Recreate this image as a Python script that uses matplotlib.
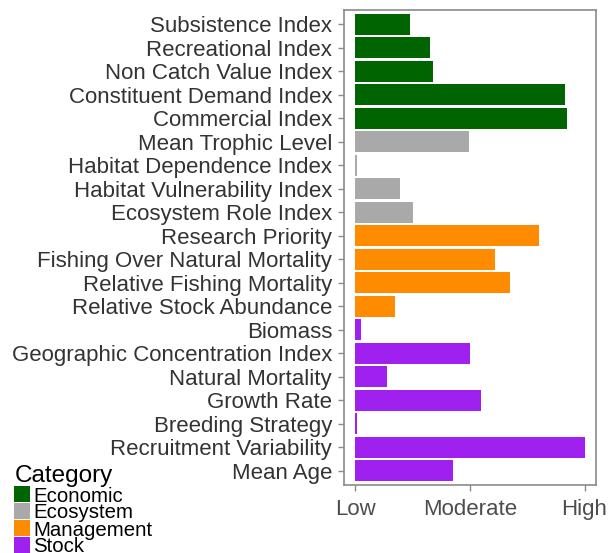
import matplotlib
matplotlib.use("Agg")
import matplotlib.pyplot as plt
from matplotlib.patches import Rectangle

plt.rcParams['font.family'] = ['Liberation Sans', 'DejaVu Sans']

labels = ["Subsistence Index", "Recreational Index", "Non Catch Value Index",
          "Constituent Demand Index", "Commercial Index",
          "Mean Trophic Level", "Habitat Dependence Index", "Habitat Vulnerability Index",
          "Ecosystem Role Index",
          "Research Priority", "Fishing Over Natural Mortality", "Relative Fishing Mortality",
          "Relative Stock Abundance",
          "Biomass", "Geographic Concentration Index", "Natural Mortality", "Growth Rate",
          "Breeding Strategy", "Recruitment Variability", "Mean Age"]
values = [0.48, 0.65, 0.68, 1.83, 1.85,
          0.99, 0.01, 0.39, 0.50,
          1.60, 1.215, 1.35, 0.345,
          0.046, 0.997, 0.278, 1.10, 0.017, 2.0, 0.85]
groups = ["Economic"] * 5 + ["Ecosystem"] * 4 + ["Management"] * 4 + ["Stock"] * 7
categories = ["Economic", "Ecosystem", "Management", "Stock"]
cat_colors = {"Economic": "#006400", "Ecosystem": "#A9A9A9",
              "Management": "#FF8C00", "Stock": "#A020F0"}
x_ticks = [0, 1, 2]
x_ticklabels = ["Low", "Moderate", "High"]

W, H = 608, 553
fig = plt.figure(figsize=(W / 100, H / 100), dpi=100)
ax = fig.add_axes([344 / W, (H - 485) / H, (596 - 344) / W, (485 - 10) / H])

n = len(labels)
ypos = list(range(n - 1, -1, -1))
ax.barh(ypos, values, height=0.9, color=[cat_colors[g] for g in groups], linewidth=0)
ax.set_ylim(-0.6, n - 0.4)
ax.set_xlim(-0.1, 2.1)
ax.set_yticks(ypos)
ax.set_yticklabels(labels, fontsize=16, color="#333333")
ax.set_xticks(x_ticks)
ax.set_xticklabels(x_ticklabels, fontsize=16, color="#4D4D4D")
ax.tick_params(axis='y', length=4.3, width=1, color="#8a8a8a", pad=4.3)
ax.tick_params(axis='x', length=4.3, width=1, color="#8a8a8a", pad=6)
for s in ax.spines.values():
    s.set_color("#8a8a8a")
    s.set_linewidth(1.2)

# legend
fig.text(15 / W, 1 - 482 / H, "Category", fontsize=17.5, color="black", va="baseline", ha="left")
for i, c in enumerate(categories):
    top = 486 + 17 * i
    fig.patches.append(Rectangle((14 / W, 1 - (top + 16) / H), 16 / W, 16 / H,
                                 transform=fig.transFigure, facecolor=cat_colors[c],
                                 edgecolor="none"))
    fig.text(33 / W, 1 - (top + 15.5) / H, c, fontsize=14.7, color="black",
             va="baseline", ha="left")

fig.savefig("out.png", dpi=100)
